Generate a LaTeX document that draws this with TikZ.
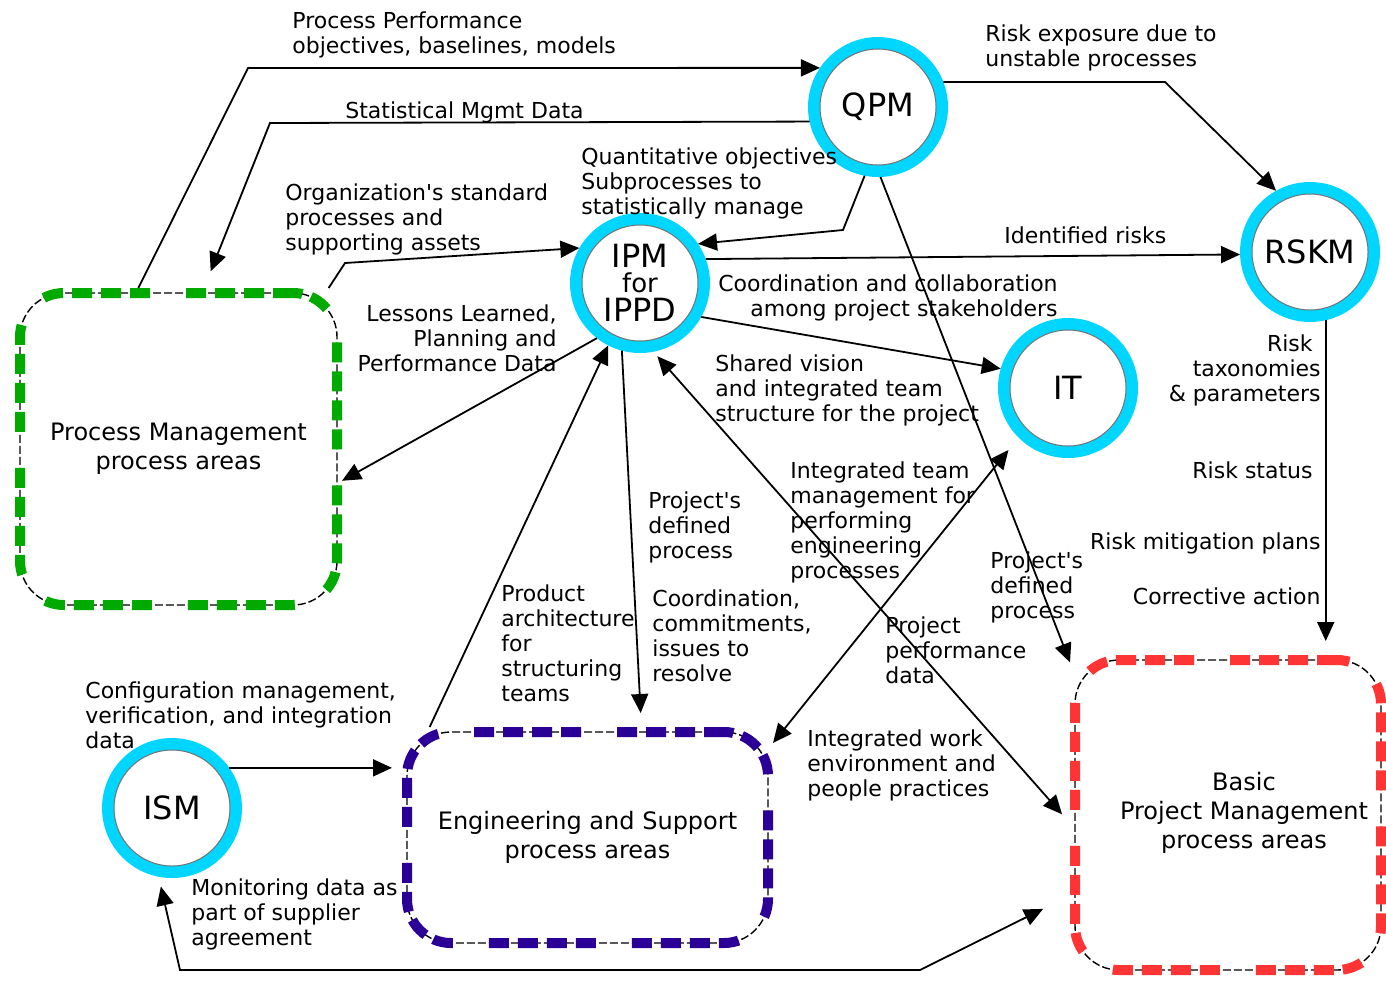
\documentclass[tikz,border=0pt]{standalone}
\usepackage{fontspec}
\setmainfont{DejaVu Sans}
\usetikzlibrary{arrows.meta,calc}
\definecolor{ringc}{RGB}{0,214,255}
\definecolor{pmgreen}{RGB}{0,170,0}
\definecolor{engblue}{RGB}{42,0,150}
\definecolor{bpmred}{RGB}{255,52,52}
\begin{document}
\begin{tikzpicture}[x=0.5pt,y=-0.5pt,
  lbl/.style={font=\fontsize{11}{12.6}\selectfont, inner sep=0pt, align=left, anchor=north west},
  lblr/.style={lbl, align=right, anchor=north east},
  ring/.style={circle, draw=ringc, line width=6pt, minimum size=64pt, inner sep=0pt,
    font=\fontsize{16}{12.5}\selectfont, align=center},
  area/.style={rectangle, rounded corners=22pt, line width=5pt,
    dash pattern=on 10pt off 4.5pt on 10pt off 4.5pt on 10pt off 4.5pt on 10pt off 18pt,
    preaction={draw=black, line width=0.7pt, dash pattern=on 4pt off 1.5pt},
    font=\fontsize{12}{14.5}\selectfont, align=center, inner sep=0pt},
  arealbl/.style={font=\fontsize{12}{14.5}\selectfont, align=center, inner sep=0pt},
  tip/.tip={Triangle[length=9.5pt,width=8.5pt]},
  flow/.style={line width=0.9pt, -tip},
  both/.style={line width=0.9pt, tip-tip}]

\useasboundingbox (0,0) rectangle (1386,981);

% process-area boxes
\node[area, draw=pmgreen, minimum width=158.5pt, minimum height=156pt] (pm) at (178.5,449)
  {Process Management\\process areas};
\node[area, draw=engblue, minimum width=180.5pt, minimum height=105.5pt] (eng) at (587.5,837.5)
  {Engineering and Support\\process areas};
\node[area, draw=bpmred, minimum width=153pt, minimum height=155pt] (bpm) at (1228,815) {};
\node[arealbl] (bpmtext) at (1244,813) {Basic\\Project Management\\process areas};

% process areas drawn as rings
\node[ring] (QPM) at (878,107) {QPM};
\node[ring] (IPM) at (640,283) {IPM\\{\fontsize{13}{12.5}\selectfont for}\\[2pt]IPPD};
\node[ring] (RSKM) at (1310,252) {RSKM};
\node[ring] (IT) at (1068,388) {IT};
\node[ring] (ISM) at (172,808) {ISM};
\foreach \c in {QPM,IPM,RSKM,IT,ISM}
  \draw[black!55, line width=0.5pt] (\c.center) circle[radius=29pt];

% bends of the routed connectors
\coordinate (ppoBend) at (248,68);
\coordinate (smdBend) at (270,123);
\coordinate (ospBend) at (345,263);
\coordinate (qosBend) at (843,230);
\coordinate (reBend) at (1165,82);
\coordinate (monA) at (920,970);
\coordinate (monB) at (180,970);

% connectors
\draw[flow] (pm.104.5) -- (ppoBend) -- (QPM.146);
\draw[flow, shorten >=9pt] (QPM.192) -- (smdBend) -- (pm.81);
\draw[flow] (pm.47) -- (ospBend) -- (IPM.150);
\draw[flow] (QPM.259) -- (qosBend) -- (IPM.34);
\draw[flow] (QPM.272) -- (bpm.136);
\draw[flow] (QPM.21) -- (reBend) -- (RSKM.119);
\draw[flow] (IPM.20) -- (RSKM.182);
\draw[flow] (IPM.331) -- (IT.164);
\draw[flow] (IPM.232) -- (pm.-11);
\draw[flow] (eng.145) -- (IPM.243);
\draw[flow, shorten >=7pt] (IPM.255) -- (eng.64);
\draw[both, shorten <=3pt, shorten >=6pt] (IPM.281) -- (bpm.183);
\draw[both, shorten <=8pt] (IT.225) -- (eng.27);
\draw[flow, shorten >=5pt] (ISM.35) -- (ISM.35 -| eng.west);
\draw[both, shorten <=15pt, shorten >=5pt] (bpm.207) -- (monA) -- (monB) -- (ISM.259);
\draw[flow, shorten >=7pt] (RSKM.283) -- (RSKM.283 |- bpm.north);

% connector labels
\node[lbl] (t1) at (292,11) {Process Performance\\objectives, baselines, models};
\node[lbl] (t2) at (345,101) {Statistical Mgmt Data};
\node[lbl] (t3) at (285,183) {Organization\textquotesingle s standard\\processes and\\supporting assets};
\node[lbl] (t4) at (581,147) {Quantitative objectives\\Subprocesses to\\statistically manage};
\node[lbl] (t5) at (985,24) {Risk exposure due to\\unstable processes};
\node[lbl] (t6) at (1004,226) {Identified risks};
\node[lblr] (t7) at (1058,274) {Coordination and collaboration\\among project stakeholders};
\node[lblr] (t8) at (557,304) {Lessons Learned,\\Planning and\hspace*{4pt}\\Performance Data};
\node[lbl] (t9) at (715,354) {Shared vision\\and integrated team\\structure for the project};
\node[lblr] (t10) at (1321,334) {Risk\hspace*{4pt}\\taxonomies\\\& parameters};
\node[lblr] (t11) at (1313,461) {Risk status};
\node[lblr] (t12) at (1321,532) {Risk mitigation plans};
\node[lblr] (t13) at (1321,587) {Corrective action};
\node[lbl] (t14) at (790,461) {Integrated team\\management for\\performing\\engineering\\processes};
\node[lbl] (t15) at (648,491) {Project\textquotesingle s\\defined\\process};
\node[lbl] (t16) at (990,551) {Project\textquotesingle s\\defined\\process};
\node[lbl] (t17) at (501,584) {Product\\architecture\\for\\structuring\\teams};
\node[lbl] (t18) at (652,589) {Coordination,\\commitments,\\issues to\\resolve};
\node[lbl] (t19) at (885,616) {Project\\performance\\data};
\node[lbl] (t20) at (85,681) {Configuration management,\\verification, and integration\\data};
\node[lbl] (t21) at (807,729) {Integrated work\\environment and\\people practices};
\node[lbl] (t22) at (191,878) {Monitoring data as\\part of supplier\\agreement};
\end{tikzpicture}
\end{document}
